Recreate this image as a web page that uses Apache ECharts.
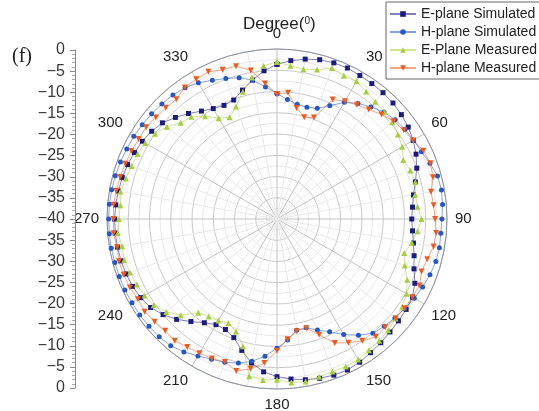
<!DOCTYPE html>
<html>
<head>
<meta charset="utf-8">
<script src="https://cdn.jsdelivr.net/npm/echarts@6/dist/echarts.min.js"></script>
<style>
  html, body { margin: 0; padding: 0; background: #fff; }
  #chart { width: 539px; height: 411px; }
</style>
</head>
<body>
<div id="chart"></div>
<script>
// angles 0..355, every 5 degrees
const angles = [];
for (let a = 0; a < 360; a += 5) angles.push(a);

const angleTicks = [0, 30, 60, 90, 120, 150, 180, 210, 240, 270, 300, 330];

// dB values, one per angle
const eSim = [
  -3.6, -2.6, -1.8, -1.2, -0.9, -0.8, -1.0, -1.1, -1.2, -1.4, -1.8, -2.3,
  -3.0, -3.9, -5.0, -6.3, -7.4, -8.0, -8.3, -8.0, -7.4, -6.6, -5.7, -4.2,
  -3.2, -2.9, -2.7, -2.4, -2.0, -1.6, -1.1, -0.8, -0.9, -1.2, -1.6, -2.2,
  -2.9, -3.9, -5.6, -8.0, -10.3, -11.3, -11.3, -10.2, -8.5, -6.6, -5.0, -3.7,
  -3.0, -2.5, -2.2, -2.0, -1.9, -1.8, -1.8, -1.9, -2.1, -2.3, -2.6, -3.0,
  -3.4, -4.0, -4.8, -6.2, -7.6, -9.0, -10.0, -10.5, -10.2, -8.6, -6.8, -5.0
];
const hSim = [
  -10.5, -11.8, -12.6, -12.8, -12.3, -10.6, -8.3, -6.8, -5.6, -4.4, -3.7, -3.2,
  -2.9, -2.5, -1.7, -0.9, -0.7, -0.9, -1.2, -1.3, -1.2, -1.3, -1.7, -2.2,
  -2.7, -3.3, -3.8, -4.3, -4.9, -6.6, -8.6, -10.7, -12.2, -13.5, -13.4, -11.4,
  -9.6, -7.6, -6.0, -4.9, -4.1, -3.6, -2.8, -1.8, -1.1, -0.8, -0.7, -0.6,
  -0.6, -0.5, -0.5, -0.5, -0.4, -0.4, -0.4, -0.4, -0.5, -0.6, -0.8, -1.0,
  -1.1, -1.3, -1.5, -1.7, -1.9, -2.3, -3.0, -4.0, -4.8, -5.6, -6.8, -8.8
];
const eMeas = [
  -3.0, -3.8, -4.2, -3.6, -2.2, -2.8, -2.6, -3.4, -4.0, -4.3, -4.6, -5.3,
  -6.0, -7.2, -6.6, -6.3, -7.0, -6.8, -6.0, -6.8, -7.8, -9.0, -8.0, -6.2,
  -4.8, -4.0, -3.6, -3.0, -2.6, -2.3, -1.8, -1.7, -1.8, -1.6, -1.2, -1.4,
  -2.2, -2.0, -2.4, -9.0, -11.8, -13.0, -12.4, -12.0, -11.2, -8.0, -6.0, -4.6,
  -4.0, -3.6, -3.2, -2.8, -3.0, -2.4, -2.8, -3.0, -2.6, -3.2, -3.6, -3.8,
  -4.2, -5.0, -6.2, -8.0, -8.6, -10.5, -12.6, -13.6, -11.8, -9.0, -6.2, -3.8
];
const hMeas = [
  -10.6, -10.2, -13.5, -15.2, -14.6, -9.0, -8.0, -7.2, -6.4, -5.2, -4.2, -3.6,
  -3.0, -2.0, -1.6, -2.0, -3.2, -3.0, -2.8, -2.4, -2.6, -3.4, -3.8, -3.0,
  -3.2, -3.4, -3.6, -4.0, -3.8, -5.0, -6.4, -7.8, -11.0, -13.4, -13.2, -11.6,
  -9.0, -6.0, -4.2, -3.0, -4.2, -3.8, -3.5, -3.2, -2.6, -2.8, -2.4, -2.0,
  -2.2, -1.8, -1.6, -1.5, -1.8, -1.4, -1.5, -1.4, -1.6, -1.8, -2.0, -2.2,
  -2.4, -2.4, -2.8, -3.0, -3.2, -2.2, -2.0, -1.8, -2.6, -2.8, -4.5, -8.0
];

const seriesNames = ['E-plane Simulated', 'H-plane Simulated', 'E-Plane Measured', 'H-plane Measured'];
const colors = ['#1b1c80', '#2358c8', '#a6cf3e', '#ef5b1f'];

const font = 'Liberation Sans, Arial, sans-serif';

// [radius, angle] pairs, closed back to the first point
function toPolar(vals) {
  const pts = vals.map((v, i) => [v, angles[i]]);
  pts.push([vals[0], 360]);
  return pts;
}

function minus(v) {
  return v === 0 ? '0' : '\u2212' + Math.abs(v);
}

const chart = echarts.init(document.getElementById('chart'));

const marks = [
  { symbol: 'rect', symbolSize: 5, symbolRotate: 0 },
  { symbol: 'circle', symbolSize: 5, symbolRotate: 0 },
  { symbol: 'triangle', symbolSize: 6, symbolRotate: 0 },
  { symbol: 'triangle', symbolSize: 6, symbolRotate: 180 }
];

const series = [eSim, hSim, eMeas, hMeas].map((vals, i) => ({
  name: seriesNames[i],
  type: 'line',
  coordinateSystem: 'polar',
  symbol: marks[i].symbol,
  symbolSize: marks[i].symbolSize,
  symbolRotate: marks[i].symbolRotate,
  showAllSymbol: true,
  itemStyle: { color: colors[i] },
  lineStyle: { color: colors[i], width: 1, opacity: 0.55 },
  data: toPolar(vals)
}));

const option = {
  animation: false,
  color: colors,
  title: {
    text: '{a|Degree(}{s|0}{a|)}',
    left: 238,
    top: 11,
    textStyle: {
      fontWeight: 'normal',
      rich: {
        a: { fontSize: 17, fontFamily: font, color: '#222', fontWeight: 'normal' },
        s: { fontSize: 10, fontFamily: font, color: '#222', fontWeight: 'normal', verticalAlign: 'top' }
      }
    }
  },
  graphic: [
    {
      type: 'text',
      left: 12,
      top: 47,
      style: { text: '(f)', fontSize: 20, fontFamily: 'Liberation Serif, serif', fill: '#222' }
    }
  ],
  legend: {
    orient: 'vertical',
    left: 386,
    top: 2,
    itemWidth: 26,
    itemHeight: 7,
    itemGap: 4,
    padding: [5, 6, 4, 3],
    borderColor: '#666',
    borderWidth: 1,
    backgroundColor: '#fff',
    textStyle: { fontSize: 14, color: '#222', fontFamily: font },
    data: seriesNames
  },
  polar: { center: [277, 219], radius: 170 },
  angleAxis: {
    type: 'value',
    min: 0,
    max: 360,
    interval: 30,
    startAngle: 90,
    clockwise: true,
    axisLine: { lineStyle: { color: '#8c91a3', width: 1 } },
    axisTick: { show: false },
    axisLabel: {
      margin: 8,
      fontSize: 15,
      color: '#222',
      fontFamily: font,
      formatter: v => (angleTicks.indexOf(v) >= 0 ? String(v) : '')
    },
    splitLine: { lineStyle: { color: '#c2c2c2', width: 1 } },
    minorTick: { show: false, splitNumber: 3 },
    minorSplitLine: { show: true, lineStyle: { color: '#e8e8e8', width: 1 } }
  },
  radiusAxis: {
    type: 'value',
    min: -40,
    max: 0,
    interval: 5,
    axisLine: { show: false },
    axisTick: { show: false },
    axisLabel: { show: false },
    splitLine: { lineStyle: { color: '#c8c8c8', width: 1 } },
    minorTick: { show: false, splitNumber: 2 },
    minorSplitLine: { show: true, lineStyle: { color: '#e8e8e8', width: 1 } }
  },
  grid: { left: 75, top: 50, width: 1, height: 338 },
  xAxis: { type: 'value', show: false },
  yAxis: {
    type: 'value',
    min: 0,
    max: 80,
    interval: 5,
    axisLine: { show: true, lineStyle: { color: '#888' } },
    axisTick: { show: true, length: 5, lineStyle: { color: '#888' } },
    minorTick: { show: true, splitNumber: 5, length: 3, lineStyle: { color: '#aaa' } },
    splitLine: { show: false },
    axisLabel: {
      fontSize: 16,
      color: '#3a3a3a',
      fontFamily: font,
      margin: 10,
      formatter: v => minus(-(40 - Math.abs(v - 40)))
    }
  },
  series: series
};

chart.setOption(option);
</script>
</body>
</html>
